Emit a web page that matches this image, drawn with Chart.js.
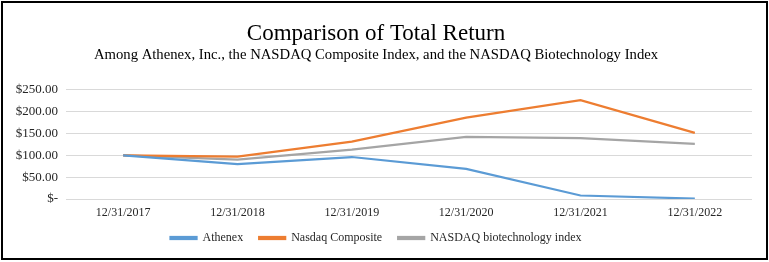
<!DOCTYPE html>
<html>
<head>
<meta charset="utf-8">
<script src="https://cdn.jsdelivr.net/npm/chart.js@4"></script>
<style>
  html, body { margin: 0; padding: 0; background: #fff; }
  #wrap { width: 769px; height: 262px; position: relative; }
</style>
</head>
<body>
<div id="wrap"><canvas id="grafico"></canvas></div>
<script>
// datos
const fechas = ['12/31/2017', '12/31/2018', '12/31/2019', '12/31/2020', '12/31/2021', '12/31/2022'];
const athenex = [100, 80, 96, 69, 8, 1];
const nasdaqComposite = [100, 97, 131, 186, 226, 151];
const nasdaqBiotech = [100, 90, 113, 142, 139, 126];
const ticksY = [0, 50, 100, 150, 200, 250];

const colores = {
  azul: '#5B9BD5',
  naranja: '#ED7D31',
  gris: '#A5A5A5',
  rejilla: '#D9D9D9',
  texto: '#262626'
};

const fuente = "'Liberation Serif', 'Times New Roman', serif";

// marco negro alrededor de todo
const marco = {
  id: 'marco',
  afterDraw(chart) {
    const c = chart.ctx;
    c.save();
    c.strokeStyle = '#000';
    c.lineWidth = 2;
    c.strokeRect(2, 2, chart.width - 4, chart.height - 5);
    c.restore();
  }
};

// la leyenda queda un poco más arriba, pegada a las fechas
const subirLeyenda = {
  id: 'subirLeyenda',
  afterLayout(chart) {
    const l = chart.legend;
    if (!l) return;
    l.top -= 11.4;
    l.bottom -= 11.4;
  }
};

function serie(label, data, color) {
  return {
    label, data,
    borderColor: color,
    backgroundColor: color,
    borderWidth: 2.25,
    pointRadius: 0,
    tension: 0,
    fill: false
  };
}

new Chart(document.getElementById('grafico'), {
  type: 'line',
  data: {
    labels: fechas,
    datasets: [
      serie('Athenex', athenex, colores.azul),
      serie('Nasdaq Composite', nasdaqComposite, colores.naranja),
      serie('NASDAQ biotechnology index', nasdaqBiotech, colores.gris)
    ]
  },
  options: {
    responsive: true,
    maintainAspectRatio: false,
    animation: false,
    layout: { padding: { top: 22, right: 17, bottom: 1.6, left: 0 } },
    plugins: {
      title: {
        display: true,
        text: 'Comparison of Total Return',
        color: '#000',
        font: { family: fuente, size: 23, weight: 'normal', lineHeight: 1 },
        padding: { top: 0, bottom: 0 }
      },
      subtitle: {
        display: true,
        text: 'Among Athenex, Inc., the NASDAQ Composite Index, and the NASDAQ Biotechnology Index',
        color: '#000',
        font: { family: fuente, size: 14.7, weight: 'normal' },
        padding: { top: 1, bottom: 26 }
      },
      legend: {
        position: 'bottom',
        maxHeight: 33,
        labels: {
          color: colores.texto,
          font: { family: fuente, size: 12 },
          boxWidth: 26,
          boxHeight: 2,
          padding: 16
        }
      },
      tooltip: { enabled: false }
    },
    scales: {
      x: {
        offset: true,
        grid: { display: false, drawTicks: false },
        border: { display: false },
        ticks: { color: colores.texto, font: { family: fuente, size: 12 }, maxRotation: 0, padding: 7 }
      },
      y: {
        min: 0,
        max: 250,
        afterBuildTicks: (s) => { s.ticks = ticksY.map(v => ({ value: v })); },
        afterFit: (s) => { s.width = 66; },
        grid: { color: colores.rejilla, lineWidth: 1, drawTicks: false },
        border: { display: false },
        ticks: {
          autoSkip: false,
          color: colores.texto,
          font: { family: fuente, size: 13 },
          padding: 8,
          callback: (v) => v === 0 ? '$-' : '$' + v.toFixed(2)
        }
      }
    }
  },
  plugins: [marco, subirLeyenda]
});
</script>
</body>
</html>
